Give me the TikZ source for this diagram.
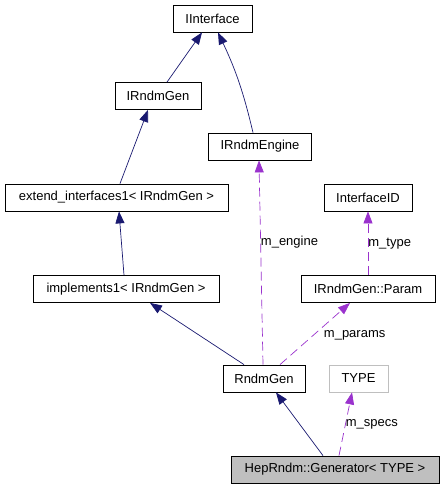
\documentclass[tikz,border=0pt]{standalone}
\usepackage{fontspec}
\setmainfont{Liberation Sans}
\usepackage{tikz}
\usetikzlibrary{arrows.meta,calc}
\definecolor{inhcol}{HTML}{191970}
\definecolor{usecol}{HTML}{9A32CD}
\definecolor{graybox}{HTML}{BFBFBF}

\begin{document}
\begin{tikzpicture}[
  x=1pt, y=-1pt,
  classbox/.style={draw, line width=0.8pt, fill=white, inner sep=0pt, minimum height=27pt, font=\fontsize{13}{15}\selectfont},
  undocbox/.style={classbox, draw=graybox},
  focusbox/.style={classbox, fill=graybox},
  inherit/.style={-{Triangle[length=12pt, width=9pt]}, line width=0.7pt, draw=inhcol},
  usage/.style={-{Triangle[length=12pt, width=9pt]}, line width=0.7pt, draw=usecol, dash pattern=on 9pt off 5pt},
  lbl/.style={font=\fontsize{13}{15}\selectfont, inner sep=0pt, anchor=west}
]
\useasboundingbox (0,0) rectangle (444,488);

% classes
\node[classbox, minimum width=79pt] (iface) at (212.5,18.5) {IInterface};
\node[classbox, minimum width=86pt] (irndmgen) at (158,96) {IRndmGen};
\node[classbox, minimum width=103pt] (irndmeng) at (260,146.5) {IRndmEngine};
\node[classbox, minimum width=223pt] (extend) at (116.5,197.5) {extend\_interfaces1< IRndmGen >};
\node[classbox, minimum width=88pt] (ifaceid) at (368,197.5) {InterfaceID};
\node[classbox, minimum width=186pt] (impl) at (126,289) {implements1< IRndmGen >};
\node[classbox, minimum width=134pt] (param) at (368,289) {IRndmGen::Param};
\node[classbox, minimum width=82pt] (rndmgen) at (264,378.5) {RndmGen};
\node[undocbox, minimum width=59pt] (type) at (358.5,378.5) {TYPE};
\node[focusbox, minimum width=208pt] (generator) at (335,469.5) {HepRndm::Generator< TYPE >};

% inheritance
\draw[inherit] ($(irndmgen.north)+(9,0)$) -- ($(iface.south)+(-10.5,0)$);
\draw[inherit] ($(irndmeng.north)+(-7,0)$) to[bend right=6] ($(iface.south)+(5.5,0)$);
\draw[inherit] ($(extend.north)+(3.5,0)$) -- ($(irndmgen.south)+(-10,0)$);
\draw[inherit] ($(impl.north)+(-2,0)$) -- ($(extend.south)+(2.5,0)$);
\draw[inherit] ($(rndmgen.north)+(-20,0)$) -- ($(impl.south)+(24,0)$);
\draw[inherit] ($(generator.north)+(-12,0)$) -- ($(rndmgen.south)+(12,0)$);

% members
\draw[usage] ($(rndmgen.north)+(-1,0)$) -- node[lbl, pos=0.6] {m\_engine} ($(irndmeng.south)+(-1,0)$);
\draw[usage] ($(rndmgen.north)+(16,0)$) -- node[lbl, pos=0.48, xshift=10pt] {m\_params} ($(param.south)+(-18,0)$);
\draw[usage] (param.north) -- node[lbl, pos=0.5] {m\_type} (ifaceid.south);
\draw[usage] ($(generator.north)+(4,0)$) -- node[lbl, pos=0.5] {m\_specs} ($(type.south)+(-6.5,0)$);
\end{tikzpicture}
\end{document}
